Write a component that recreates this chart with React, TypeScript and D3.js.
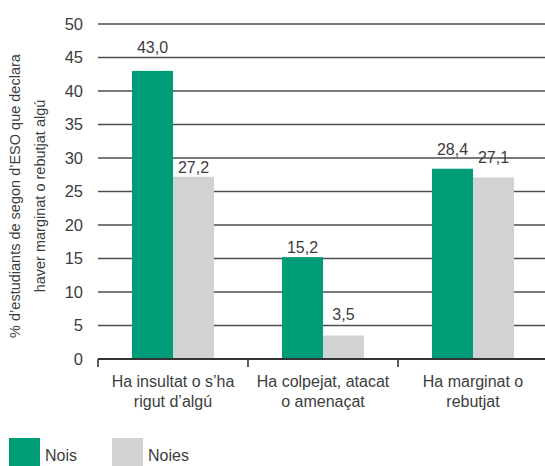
import * as d3 from "d3";
import React, { useEffect, useRef } from "react";

// Chart data
const categories = [
  ["Ha insultat o s\u2019ha", "rigut d\u2019alg\u00fa"],
  ["Ha colpejat, atacat", "o amena\u00e7at"],
  ["Ha marginat o", "rebutjat"],
];
const seriesNames = ["Nois", "Noies"];
const nois = [43.0, 15.2, 28.4];
const noies = [27.2, 3.5, 27.1];
const yTicks = [0, 5, 10, 15, 20, 25, 30, 35, 40, 45, 50];
const yTitle = ["% d\u2019estudiants de segon d\u2019ESO que declara", "haver marginat o rebutjat alg\u00fa"];

const colors = ["#009b77", "#d1d2d4"];
// extra lift of value labels so they sit clear of the grid lines
const labelLift = [[14, 0], [0, 12], [10, 10]];

const App: React.FC = () => {
  const svgRef = useRef<SVGSVGElement>(null);

  useEffect(() => {
    if (!svgRef.current) return;
    const width = 545;
    const height = 466;
    const margin = { top: 24, left: 98, right: -3, bottom: 107 };
    const plotW = width - margin.left - margin.right;
    const plotH = height - margin.top - margin.bottom;

    const svg = d3.select(svgRef.current);
    svg.selectAll("*").remove();
    svg.attr("width", width).attr("height", height);

    const font = "'Liberation Sans', Arial, sans-serif";
    const textColor = "#3d3d3d";
    const g = svg
      .append("g")
      .attr("transform", `translate(${margin.left},${margin.top})`)
      .style("font-family", font);

    const x0 = d3
      .scaleBand<number>()
      .domain(categories.map((_, i) => i))
      .range([0, plotW]);
    const x1 = d3
      .scaleBand<number>()
      .domain([0, 1])
      .range([0, x0.bandwidth()])
      .paddingOuter(0.83)
      .paddingInner(0);
    const y = d3.scaleLinear().domain([0, 50]).range([plotH, 0]);

    // grid lines
    g.append("g")
      .selectAll("line")
      .data(yTicks.filter((t) => t > 0))
      .join("line")
      .attr("x1", 0)
      .attr("x2", plotW)
      .attr("y1", (d) => y(d))
      .attr("y2", (d) => y(d))
      .attr("stroke", "#4d4d4d")
      .attr("stroke-width", 1.5);

    // y tick labels
    g.append("g")
      .selectAll("text")
      .data(yTicks)
      .join("text")
      .attr("x", -15)
      .attr("y", (d) => y(d))
      .attr("dy", "0.36em")
      .attr("text-anchor", "end")
      .attr("fill", textColor)
      .style("font-size", "16.5px")
      .text((d) => d);

    // bars
    const groups = g
      .append("g")
      .selectAll("g")
      .data(categories.map((_, i) => i))
      .join("g")
      .attr("transform", (d) => `translate(${x0(d)},0)`);

    groups
      .selectAll("rect")
      .data((i) => [nois[i], noies[i]].map((v, s) => ({ v, s, i })))
      .join("rect")
      .attr("x", (d) => x1(d.s)!)
      .attr("width", x1.bandwidth())
      .attr("y", (d) => y(d.v))
      .attr("height", (d) => plotH - y(d.v))
      .attr("fill", (d) => colors[d.s]);

    groups
      .selectAll("text")
      .data((i) => [nois[i], noies[i]].map((v, s) => ({ v, s, i })))
      .join("text")
      .attr("x", (d) => x1(d.s)! + x1.bandwidth() / 2)
      .attr("y", (d) => y(d.v) - 4 - labelLift[d.i][d.s])
      .attr("text-anchor", "middle")
      .attr("fill", textColor)
      .style("font-size", "16px")
      .text((d) => d3.format(".1f")(d.v).replace(".", ","));

    // x axis baseline and separators
    const axis = g.append("g").attr("transform", `translate(0,${plotH})`);
    axis
      .append("line")
      .attr("x1", 0)
      .attr("x2", plotW)
      .attr("stroke", "#333")
      .attr("stroke-width", 1.8);
    axis
      .selectAll("line.sep")
      .data(d3.range(categories.length + 1))
      .join("line")
      .attr("class", "sep")
      .attr("x1", (d) => d * x0.bandwidth())
      .attr("x2", (d) => d * x0.bandwidth())
      .attr("y1", 0)
      .attr("y2", 8)
      .attr("stroke", "#333")
      .attr("stroke-width", 1.6);

    axis
      .selectAll("text.cat")
      .data(categories)
      .join("text")
      .attr("class", "cat")
      .attr("text-anchor", "middle")
      .attr("fill", textColor)
      .style("font-size", "16px")
      .attr("transform", (_, i) => `translate(${x0(i)! + x0.bandwidth() / 2},28)`)
      .selectAll("tspan")
      .data((d) => d)
      .join("tspan")
      .attr("x", 0)
      .attr("y", (_, k) => k * 20)
      .text((d) => d);

    // y axis title
    svg
      .append("text")
      .attr("transform", `translate(20,196) rotate(-90)`)
      .attr("text-anchor", "middle")
      .attr("fill", textColor)
      .style("font-family", font)
      .style("font-size", "14.5px")
      .selectAll("tspan")
      .data(yTitle)
      .join("tspan")
      .attr("x", 0)
      .attr("y", (_, k) => k * 25)
      .text((d) => d);

    // legend
    const legend = svg
      .append("g")
      .style("font-family", font)
      .selectAll("g")
      .data(seriesNames)
      .join("g")
      .attr("transform", (_, i) => `translate(${9 + i * 103},438)`);
    legend
      .append("rect")
      .attr("width", 31)
      .attr("height", 30)
      .attr("fill", (_, i) => colors[i]);
    legend
      .append("text")
      .attr("x", 36)
      .attr("y", 23)
      .attr("fill", textColor)
      .style("font-size", "16px")
      .text((d) => d);
  }, []);

  return <svg ref={svgRef} style={{ position: "absolute", left: 0, top: 0 }} />;
};

export default App;
